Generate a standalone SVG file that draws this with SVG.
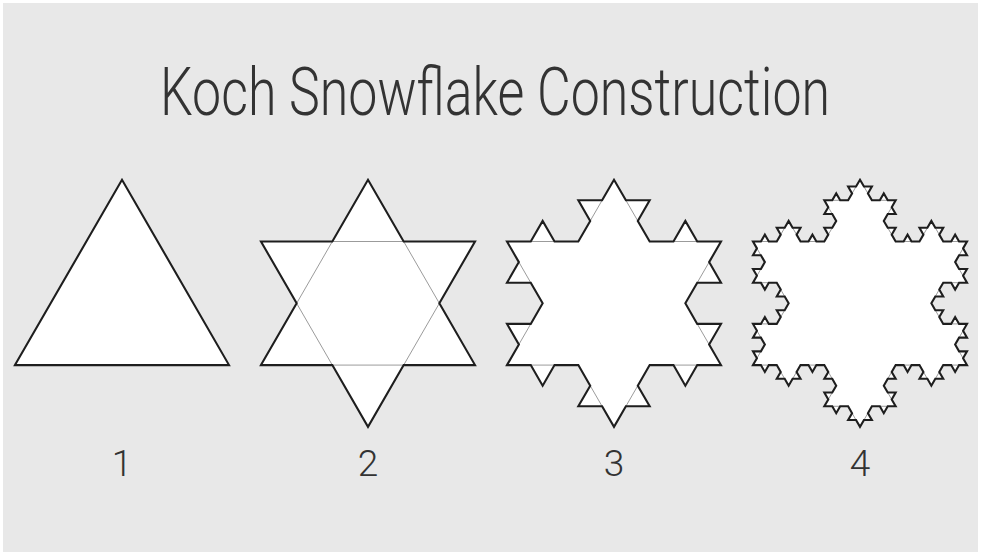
<svg xmlns="http://www.w3.org/2000/svg" xmlns:xlink="http://www.w3.org/1999/xlink" width="981" height="560" viewBox="0 0 981 560">
<style>
.bg{fill:#e8e8e8}
.fillw{fill:#fff;stroke:none}
.edge{fill:none;stroke:#1e1e1e;stroke-width:2.1;stroke-linejoin:miter}
.base{fill:none;stroke:#9a9a9a;stroke-width:1}
.title{font-family:Roboto,"Liberation Sans",sans-serif;font-weight:300;font-size:66px;fill:#333}
.num{font-family:Roboto,"Liberation Sans",sans-serif;font-weight:300;font-size:37px;fill:#333;text-anchor:middle}
</style>
<defs>
<path id="k0" d="M-108,62.3538 L0,-124.7077 L108,62.3538 Z"/>
<path id="k1" d="M-108,62.3538 L-72,0 L-108,-62.3538 L-36,-62.3538 L0,-124.7077 L36,-62.3538 L108,-62.3538 L72,0 L108,62.3538 L36,62.3538 L0,124.7077 L-36,62.3538 Z"/>
<path id="k2" d="M-108,62.3538 l12,-20.7846 -12,-20.7846 24,0 12,-20.7846
-12,-20.7846 -24,0 12,-20.7846 -12,-20.7846
24,0 12,-20.7846 12,20.7846 24,0
12,-20.7846 -12,-20.7846 24,0 12,-20.7846
12,20.7846 24,0 -12,20.7846 12,20.7846
24,0 12,-20.7846 12,20.7846 24,0
-12,20.7846 12,20.7846 -24,0 -12,20.7846
12,20.7846 24,0 -12,20.7846 12,20.7846
-24,0 -12,20.7846 -12,-20.7846 -24,0
-12,20.7846 12,20.7846 -24,0 -12,20.7846
-12,-20.7846 -24,0 12,-20.7846 -12,-20.7846
-24,0 -12,20.7846 -12,-20.7846 -24,0 Z"/>
<path id="k3" d="M-108,62.3538 l4,-6.9282 -4,-6.9282 8,0 4,-6.9282 -4,-6.9282 -8,0 4,-6.9282 -4,-6.9282 8,0 4,-6.9282 4,6.9282 8,0 4,-6.9282 -4,-6.9282 8,0 4,-6.9282
-4,-6.9282 -8,0 4,-6.9282 -4,-6.9282 -8,0 -4,6.9282 -4,-6.9282 -8,0 4,-6.9282 -4,-6.9282 8,0 4,-6.9282 -4,-6.9282 -8,0 4,-6.9282 -4,-6.9282
8,0 4,-6.9282 4,6.9282 8,0 4,-6.9282 -4,-6.9282 8,0 4,-6.9282 4,6.9282 8,0 -4,6.9282 4,6.9282 8,0 4,-6.9282 4,6.9282 8,0
4,-6.9282 -4,-6.9282 8,0 4,-6.9282 -4,-6.9282 -8,0 4,-6.9282 -4,-6.9282 8,0 4,-6.9282 4,6.9282 8,0 4,-6.9282 -4,-6.9282 8,0 4,-6.9282
4,6.9282 8,0 -4,6.9282 4,6.9282 8,0 4,-6.9282 4,6.9282 8,0 -4,6.9282 4,6.9282 -8,0 -4,6.9282 4,6.9282 8,0 -4,6.9282 4,6.9282
8,0 4,-6.9282 4,6.9282 8,0 4,-6.9282 -4,-6.9282 8,0 4,-6.9282 4,6.9282 8,0 -4,6.9282 4,6.9282 8,0 4,-6.9282 4,6.9282 8,0
-4,6.9282 4,6.9282 -8,0 -4,6.9282 4,6.9282 8,0 -4,6.9282 4,6.9282 -8,0 -4,6.9282 -4,-6.9282 -8,0 -4,6.9282 4,6.9282 -8,0 -4,6.9282
4,6.9282 8,0 -4,6.9282 4,6.9282 8,0 4,-6.9282 4,6.9282 8,0 -4,6.9282 4,6.9282 -8,0 -4,6.9282 4,6.9282 8,0 -4,6.9282 4,6.9282
-8,0 -4,6.9282 -4,-6.9282 -8,0 -4,6.9282 4,6.9282 -8,0 -4,6.9282 -4,-6.9282 -8,0 4,-6.9282 -4,-6.9282 -8,0 -4,6.9282 -4,-6.9282 -8,0
-4,6.9282 4,6.9282 -8,0 -4,6.9282 4,6.9282 8,0 -4,6.9282 4,6.9282 -8,0 -4,6.9282 -4,-6.9282 -8,0 -4,6.9282 4,6.9282 -8,0 -4,6.9282
-4,-6.9282 -8,0 4,-6.9282 -4,-6.9282 -8,0 -4,6.9282 -4,-6.9282 -8,0 4,-6.9282 -4,-6.9282 8,0 4,-6.9282 -4,-6.9282 -8,0 4,-6.9282 -4,-6.9282
-8,0 -4,6.9282 -4,-6.9282 -8,0 -4,6.9282 4,6.9282 -8,0 -4,6.9282 -4,-6.9282 -8,0 4,-6.9282 -4,-6.9282 -8,0 -4,6.9282 -4,-6.9282 -8,0 Z"/>
</defs>
<rect class="bg" x="3" y="3" width="975" height="549"/>
<text class="title" x="160" y="115" textLength="670" lengthAdjust="spacingAndGlyphs">Koch Snowflake Construction</text>

<g id="fig1" transform="translate(122,303.3) scale(0.991)">
<use xlink:href="#k0" class="fillw"/>
<use xlink:href="#k0" class="edge"/>
</g>

<g id="fig2" transform="translate(368,303.3) scale(0.991)">
<use xlink:href="#k1" class="fillw"/>
<path class="base" d="M-72,0 L-36,-62.3538 L36,-62.3538 L72,0 L36,62.3538 L-36,62.3538 Z"/>
<use xlink:href="#k1" class="edge"/>
</g>

<g id="fig3" transform="translate(614,303.3) scale(0.991)">
<use xlink:href="#k2" class="fillw"/>
<path class="base" d="M-108,62.3538
m12,-20.7846 l12,-20.7846 m12,-20.7846
m-12,-20.7846 l-12,-20.7846 m-12,-20.7846
m24,0 l24,0 m24,0
m12,-20.7846 l12,-20.7846 m12,-20.7846
m12,20.7846 l12,20.7846 m12,20.7846
m24,0 l24,0 m24,0
m-12,20.7846 l-12,20.7846 m-12,20.7846
m12,20.7846 l12,20.7846 m12,20.7846
m-24,0 l-24,0 m-24,0
m-12,20.7846 l-12,20.7846 m-12,20.7846
m-12,-20.7846 l-12,-20.7846 m-12,-20.7846
m-24,0 l-24,0 m-24,0"/>
<use xlink:href="#k2" class="edge"/>
</g>

<g id="fig4" transform="translate(860,303.3) scale(0.991)">
<use xlink:href="#k3" class="fillw"/>
<path class="base" d="M-108,62.3538
m4,-6.9282 l4,-6.9282 m4,-6.9282 m-4,-6.9282 l-4,-6.9282 m-4,-6.9282 m8,0 l8,0 m8,0 m4,-6.9282 l4,-6.9282 m4,-6.9282
m-4,-6.9282 l-4,-6.9282 m-4,-6.9282 m-8,0 l-8,0 m-8,0 m4,-6.9282 l4,-6.9282 m4,-6.9282 m-4,-6.9282 l-4,-6.9282 m-4,-6.9282
m8,0 l8,0 m8,0 m4,-6.9282 l4,-6.9282 m4,-6.9282 m4,6.9282 l4,6.9282 m4,6.9282 m8,0 l8,0 m8,0
m4,-6.9282 l4,-6.9282 m4,-6.9282 m-4,-6.9282 l-4,-6.9282 m-4,-6.9282 m8,0 l8,0 m8,0 m4,-6.9282 l4,-6.9282 m4,-6.9282
m4,6.9282 l4,6.9282 m4,6.9282 m8,0 l8,0 m8,0 m-4,6.9282 l-4,6.9282 m-4,6.9282 m4,6.9282 l4,6.9282 m4,6.9282
m8,0 l8,0 m8,0 m4,-6.9282 l4,-6.9282 m4,-6.9282 m4,6.9282 l4,6.9282 m4,6.9282 m8,0 l8,0 m8,0
m-4,6.9282 l-4,6.9282 m-4,6.9282 m4,6.9282 l4,6.9282 m4,6.9282 m-8,0 l-8,0 m-8,0 m-4,6.9282 l-4,6.9282 m-4,6.9282
m4,6.9282 l4,6.9282 m4,6.9282 m8,0 l8,0 m8,0 m-4,6.9282 l-4,6.9282 m-4,6.9282 m4,6.9282 l4,6.9282 m4,6.9282
m-8,0 l-8,0 m-8,0 m-4,6.9282 l-4,6.9282 m-4,6.9282 m-4,-6.9282 l-4,-6.9282 m-4,-6.9282 m-8,0 l-8,0 m-8,0
m-4,6.9282 l-4,6.9282 m-4,6.9282 m4,6.9282 l4,6.9282 m4,6.9282 m-8,0 l-8,0 m-8,0 m-4,6.9282 l-4,6.9282 m-4,6.9282
m-4,-6.9282 l-4,-6.9282 m-4,-6.9282 m-8,0 l-8,0 m-8,0 m4,-6.9282 l4,-6.9282 m4,-6.9282 m-4,-6.9282 l-4,-6.9282 m-4,-6.9282
m-8,0 l-8,0 m-8,0 m-4,6.9282 l-4,6.9282 m-4,6.9282 m-4,-6.9282 l-4,-6.9282 m-4,-6.9282 m-8,0 l-8,0 m-8,0"/>
<use xlink:href="#k3" class="edge"/>
</g>

<g id="labels">
<text class="num" x="122" y="476">1</text>
<text class="num" x="368" y="476">2</text>
<text class="num" x="614" y="476">3</text>
<text class="num" x="860" y="476">4</text>
</g>
</svg>
